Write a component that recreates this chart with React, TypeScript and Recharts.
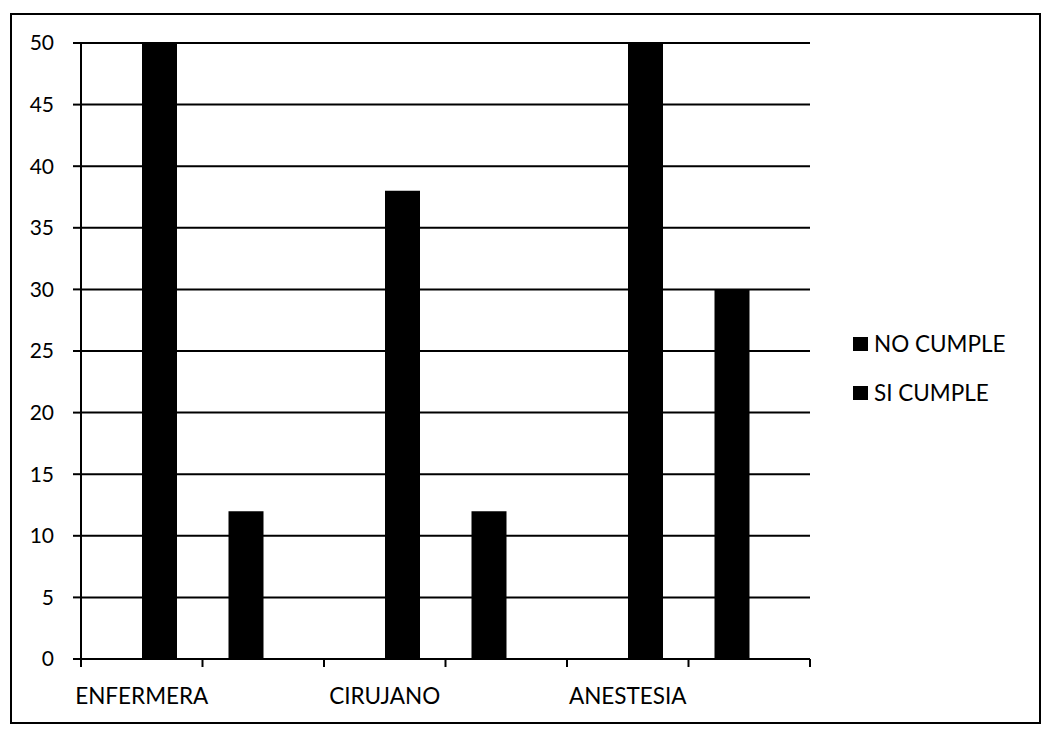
import { Bar, BarChart, CartesianGrid, Legend, XAxis, YAxis } from "recharts";

const categories = ["ENFERMERA", "", "CIRUJANO", "", "ANESTESIA", ""];
const noCumple = [null, 12, null, 12, null, 30];
const siCumple = [50, null, 38, null, 50, null];
const yTicks = [0, 5, 10, 15, 20, 25, 30, 35, 40, 45, 50];
const boundaryTicks = [0, 1, 2, 3, 4, 5, 6];

const data = categories.map((name, i) => ({
  name,
  pos: i + 0.5,
  noCumple: noCumple[i],
  siCumple: siCumple[i],
}));

const FONT = "Lato, 'DejaVu Sans', sans-serif";

function LegendBox(props: any) {
  const items = props.payload || [];
  return (
    <div style={{ fontFamily: FONT, fontSize: 22.5, color: "#000" }}>
      {items.map((it: any) => (
        <div
          key={it.value}
          style={{ display: "flex", alignItems: "center", height: 49 }}
        >
          <span
            style={{
              width: 15,
              height: 14,
              background: "#000",
              marginRight: 6,
              display: "inline-block",
            }}
          />
          <span>{it.value}</span>
        </div>
      ))}
    </div>
  );
}

export default function App() {
  return (
    <div
      style={{
        position: "absolute",
        left: 10,
        top: 13,
        width: 1031,
        height: 711,
        boxSizing: "border-box",
        border: "2px solid #000",
        background: "#fff",
        fontFamily: FONT,
      }}
    >
      <BarChart
        width={1027}
        height={707}
        data={data}
        barSize={35}
        barGap={0}
        margin={{ top: 28, right: 229, left: 0, bottom: 5 }}
      >
        <CartesianGrid
          vertical={false}
          stroke="#000"
          strokeWidth={2}
          yAxisId="y"
          xAxisId="cat"
        />
        <XAxis
          xAxisId="bounds"
          dataKey="pos"
          type="number"
          domain={[0, 6]}
          ticks={boundaryTicks}
          height={8}
          tickSize={8}
          tickFormatter={() => ""}
          axisLine={{ stroke: "#000", strokeWidth: 2 }}
          tickLine={{ stroke: "#000", strokeWidth: 2 }}
        />
        <XAxis
          xAxisId="cat"
          dataKey="name"
          height={50}
          interval={0}
          axisLine={false}
          tickLine={false}
          tickSize={0}
          tickMargin={21}
          tick={{ fill: "#000", fontSize: 22.5, fontFamily: FONT }}
        />
        <YAxis
          yAxisId="y"
          domain={[0, 50]}
          ticks={yTicks}
          width={69}
          tickSize={8}
          tickMargin={19}
          axisLine={{ stroke: "#000", strokeWidth: 2 }}
          tickLine={{ stroke: "#000", strokeWidth: 2 }}
          tick={{ fill: "#000", fontSize: 21, fontFamily: FONT }}
        />
        <Legend
          layout="vertical"
          align="center"
          verticalAlign="middle"
          wrapperStyle={{ left: 841, top: 304, width: 185 }}
          content={<LegendBox />}
        />
        <Bar
          dataKey="noCumple"
          name="NO CUMPLE"
          fill="#000"
          xAxisId="cat"
          yAxisId="y"
          isAnimationActive={false}
        />
        <Bar
          dataKey="siCumple"
          name="SI CUMPLE"
          fill="#000"
          xAxisId="cat"
          yAxisId="y"
          isAnimationActive={false}
        />
      </BarChart>
    </div>
  );
}
